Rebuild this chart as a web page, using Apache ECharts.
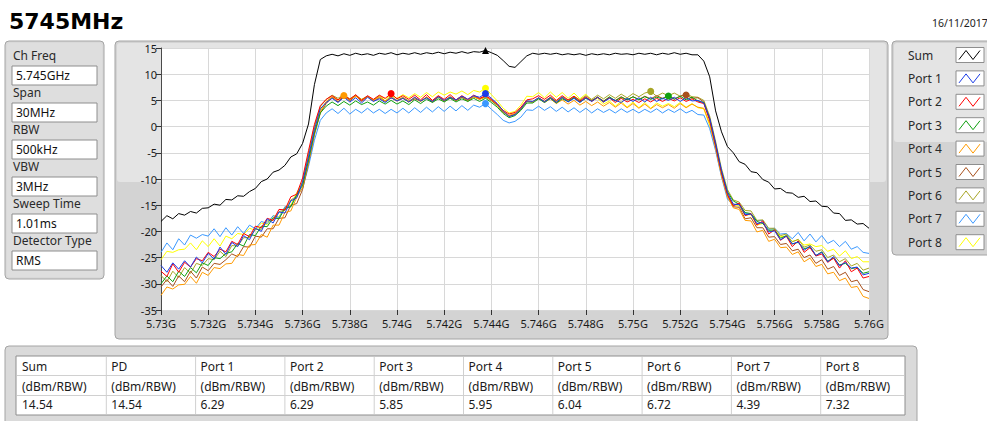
<!DOCTYPE html>
<html>
<head>
<meta charset="utf-8">
<title>5745MHz</title>
<script src="https://cdn.jsdelivr.net/npm/echarts@6/dist/echarts.min.js"></script>
<style>
  html, body { margin: 0; padding: 0; background: #fff; }
  #chart { width: 987px; height: 421px; }
</style>
</head>
<body>
<div id="chart"></div>
<script>
//sweep grid: 5730 MHz .. 5760 MHz, one point every 0.25 MHz (121 points)
const sweepStartMHz = 5730;
const sweepStepMHz = 0.25;

//traces (dBm/RBW)
const sumTrace = [
    -18.1, -17.0, -17.6, -16.6, -16.9, -16.2, -16.5, -15.6, -15.5,
    -14.8, -15.0, -13.9, -14.0, -13.2, -13.3, -12.4, -11.8,
    -10.5, -10.0, -8.7, -8.3, -7.4, -5.8, -5.2, -3.2,
    0.5, 8.0, 12.8, 13.5,
    13.8, 13.5, 13.9, 13.6, 14.0, 13.7, 13.9, 13.6, 14.0, 13.8, 14.1, 13.7,
    14.0, 13.8, 14.1, 13.8, 14.1, 13.9, 14.2, 13.9, 14.2, 14.0, 14.3, 14.0, 14.3, 14.2,
    14.54,
    14.1, 13.6, 12.6, 11.5, 11.3, 12.4, 13.5, 14.0, 13.8,
    14.0, 13.8, 14.0, 13.7, 13.9, 13.7, 13.9, 13.6, 13.9, 13.7, 13.9, 13.7, 14.0, 13.8, 13.9, 13.7,
    14.0, 13.8, 14.0, 13.7, 14.0, 13.8, 14.1, 13.8, 14.0, 13.7, 13.7, 12.5,
    9.5, 3.0, -1.0, -3.8,
    -5.0, -6.7, -7.2, -8.6, -8.8, -10.1, -10.6, -11.9,
    -11.8, -12.6, -12.7, -13.5, -13.3, -14.3, -14.2, -15.2,
    -15.3, -16.5, -16.6, -17.9, -17.8, -18.6, -18.5, -19.4
];
const port1Trace = [
    -26.5, -27.8, -26.0, -27.2, -25.6, -26.8, -24.9, -26.0, -24.2,
    -25.3, -23.0, -24.4, -22.1, -22.9, -20.8, -21.6, -19.4,
    -20.0, -17.6, -18.4, -16.3, -16.5, -14.2, -13.6, -10.6,
    -5.8, -0.6, 3.4, 4.6,
    5.4, 4.6, 5.6, 4.7, 5.5, 4.5, 5.6, 4.8, 5.3, 4.6, 5.5, 4.9,
    5.4, 4.7, 5.6, 4.9, 5.5, 4.8, 5.7, 5.0, 5.6, 5.1, 5.8, 5.2, 5.9, 5.6,
    6.29,
    5.4, 4.4, 3.0, 1.9, 2.3, 3.4, 4.9, 4.8, 5.5,
    4.7, 5.5, 4.6, 5.6, 4.7, 5.4, 4.6, 5.5, 4.8, 5.6, 4.7, 5.4, 5.0, 4.6, 5.4, 4.8,
    5.5, 4.7, 5.6, 4.8, 5.4, 5.0, 5.6, 4.8, 5.5, 4.9, 5.0, 4.5,
    1.6, -3.2, -8.4, -12.6,
    -14.8, -14.9, -16.8, -16.7, -18.5, -18.3, -20.1, -19.9,
    -21.6, -20.9, -22.4, -22.0, -23.6, -22.8, -24.6, -24.0,
    -25.8, -24.8, -26.6, -25.9, -27.0, -26.8, -28.3, -28.0
];
const port2Trace = [
    -27.6, -28.6, -26.2, -27.8, -25.9, -26.8, -25.2, -25.6, -24.0,
    -24.8, -23.4, -23.9, -21.9, -22.5, -20.4, -21.0, -19.0,
    -19.3, -17.5, -17.9, -15.8, -15.9, -13.4, -12.9, -9.8,
    -4.6, 0.4, 4.0, 5.2,
    5.9, 5.1, 6.0, 5.2, 6.1, 5.0, 5.9, 5.2, 6.0, 5.4, 6.29, 5.3,
    5.9, 5.2, 6.0, 5.1, 6.1, 5.0, 5.9, 5.2, 6.1, 5.1, 5.9, 5.2, 6.0, 5.4,
    5.9,
    5.2, 4.3, 3.1, 2.4, 2.7, 3.7, 5.1, 5.3, 5.9,
    5.2, 6.0, 5.0, 5.9, 5.1, 5.8, 4.9, 5.7, 4.8, 5.6, 4.7, 5.5, 4.6, 5.4, 4.7, 5.2,
    4.6, 5.3, 4.7, 5.4, 4.8, 5.4, 4.9, 5.5, 4.8, 5.3, 4.7, 4.4,
    1.2, -3.6, -8.8, -12.9,
    -15.1, -14.6, -17.0, -16.6, -18.8, -18.0, -20.5, -19.7,
    -21.7, -20.9, -22.9, -21.8, -24.0, -23.1, -24.7, -24.3,
    -25.9, -25.1, -27.0, -25.6, -27.7, -27.0, -28.9, -28.6
];
const port3Trace = [
    -30.0, -28.5, -29.6, -27.6, -28.6, -26.9, -27.9, -26.0, -26.5,
    -25.0, -25.2, -24.2, -23.9, -22.3, -22.8, -20.6, -20.8,
    -19.0, -19.1, -17.4, -17.6, -15.6, -15.3, -13.0, -11.2,
    -6.4, -1.2, 2.6, 3.9,
    4.7, 4.0, 4.8, 4.1, 4.9, 4.2, 4.7, 4.1, 4.9, 4.3, 5.0, 4.3,
    4.9, 4.2, 5.1, 4.4, 5.2, 4.6, 5.3, 4.7, 5.4, 4.7, 5.3, 4.8, 5.4, 4.8,
    5.4,
    4.6, 3.7, 2.5, 1.7, 2.1, 3.1, 4.5, 4.5, 5.3,
    4.6, 5.4, 4.5, 5.3, 4.8, 5.5, 4.7, 5.4, 4.9, 5.6, 4.8, 5.7, 4.9, 5.6, 5.1, 5.7,
    5.1, 5.7, 5.2, 5.6, 5.3, 5.85, 5.2, 5.8, 5.1, 5.6, 4.9, 4.6,
    1.4, -3.4, -8.6, -12.4,
    -14.2, -14.8, -16.4, -16.6, -18.1, -18.5, -19.8, -19.7,
    -21.3, -20.8, -22.4, -22.1, -23.3, -23.0, -24.6, -23.9,
    -25.7, -25.1, -26.4, -26.1, -27.1, -26.9, -28.0, -27.7
];
const port4Trace = [
    -32.2, -30.6, -31.0, -30.2, -30.1, -28.6, -29.9, -27.8, -28.4,
    -26.9, -27.1, -26.2, -26.1, -24.4, -24.6, -22.6, -22.5,
    -20.6, -21.1, -18.8, -18.8, -16.4, -16.1, -13.5, -11.6,
    -6.8, -1.4, 2.8, 4.8,
    5.7, 5.0, 5.95, 5.2, 5.8, 5.1, 5.7, 5.0, 5.6, 4.9, 5.5, 4.9,
    5.5, 4.7, 5.6, 4.8, 5.7, 4.9, 5.8, 5.0, 5.7, 5.1, 5.8, 5.1, 5.7, 5.2,
    5.6,
    5.1, 4.2, 2.9, 2.1, 2.5, 3.5, 4.9, 4.7, 5.4,
    4.6, 5.3, 4.4, 5.1, 4.3, 5.0, 4.1, 4.8, 4.0, 4.7, 3.9, 4.6, 3.7, 4.5, 3.6, 4.4,
    3.5, 4.3, 3.4, 4.2, 3.6, 4.2, 3.5, 4.4, 3.6, 4.3, 3.7, 3.5,
    0.6, -4.2, -9.4, -13.4,
    -15.5, -15.8, -17.9, -18.0, -20.1, -19.8, -21.9, -21.5,
    -23.1, -23.0, -24.4, -23.9, -25.8, -25.1, -26.7, -26.3,
    -28.1, -27.8, -29.4, -28.9, -30.7, -30.5, -32.4, -32.8
];
const port5Trace = [
    -30.6, -29.2, -30.5, -28.5, -29.6, -27.6, -28.9, -26.8, -27.5,
    -26.1, -26.3, -25.4, -24.3, -24.8, -22.9, -23.0, -20.9,
    -21.1, -19.5, -19.5, -17.5, -17.4, -15.0, -14.7, -12.0,
    -7.0, -1.6, 2.6, 4.4,
    5.6, 4.7, 5.8, 4.9, 5.9, 4.8, 5.7, 4.9, 5.5, 4.8, 5.5, 4.9,
    5.4, 4.7, 5.3, 4.9, 5.5, 4.7, 5.7, 4.9, 5.5, 5.0, 5.6, 5.0, 5.7, 5.3,
    5.7,
    5.0, 4.1, 2.8, 2.0, 2.3, 3.4, 4.8, 4.7, 5.5,
    4.8, 5.6, 4.7, 5.5, 4.8, 5.6, 4.7, 5.5, 5.0, 5.6, 4.9, 5.5, 5.0, 5.7, 5.1, 5.7,
    5.2, 5.8, 5.3, 5.9, 5.4, 5.9, 5.3, 5.8, 6.04, 5.4, 5.5, 4.7,
    1.5, -3.6, -8.9, -13.1,
    -15.3, -15.4, -17.6, -17.4, -19.3, -19.3, -21.1, -21.0,
    -22.5, -22.3, -23.7, -23.4, -25.0, -24.5, -26.1, -25.4,
    -27.2, -26.7, -28.4, -27.8, -29.6, -29.3, -31.1, -31.5
];
const port6Trace = [
    -28.4, -29.6, -27.6, -28.8, -26.9, -28.0, -26.1, -26.5, -25.2,
    -25.4, -23.8, -24.8, -22.7, -22.8, -21.2, -21.2, -19.6,
    -19.6, -18.0, -17.9, -16.2, -16.0, -14.0, -13.3, -10.4,
    -5.2, 0.0, 3.8, 5.2,
    6.0, 5.4, 6.1, 5.3, 6.0, 5.2, 5.8, 5.1, 5.8, 4.9, 5.8, 5.0,
    5.6, 4.9, 5.5, 4.8, 5.6, 4.7, 5.6, 4.8, 5.7, 4.9, 5.6, 4.8, 5.7, 5.2,
    5.7,
    4.9, 4.0, 2.7, 2.1, 2.4, 3.3, 4.8, 4.7, 5.5,
    4.8, 5.6, 4.9, 5.7, 5.0, 5.8, 5.1, 5.9, 5.2, 6.0, 5.3, 6.1, 5.4, 6.2, 5.5, 6.3,
    5.7, 6.4, 6.72, 5.8, 6.4, 5.9, 6.4, 5.8, 6.3, 5.7, 5.6, 5.0,
    2.0, -2.8, -8.0, -12.0,
    -14.0, -14.4, -16.0, -16.1, -17.9, -17.8, -19.4, -19.4,
    -20.8, -20.5, -22.0, -21.5, -23.0, -22.6, -23.8, -23.5,
    -25.0, -24.5, -25.8, -25.2, -26.6, -26.1, -27.4, -27.0
];
const port7Trace = [
    -24.0, -22.2, -23.5, -21.4, -22.6, -20.7, -21.3, -20.6, -20.9,
    -19.5, -21.0, -19.3, -20.7, -19.1, -20.4, -18.8, -19.5,
    -18.1, -18.5, -17.0, -17.4, -15.3, -15.3, -13.1, -11.8,
    -7.6, -2.6, 1.2, 2.6,
    3.4, 2.5, 3.5, 2.4, 3.3, 2.6, 3.5, 2.6, 3.3, 2.5, 3.3, 2.6,
    3.5, 2.6, 3.6, 2.7, 3.7, 2.8, 3.8, 2.9, 3.9, 3.0, 4.0, 3.1, 4.1, 3.7,
    4.39,
    3.3, 2.3, 1.2, 0.7, 1.0, 1.8, 3.2, 3.1, 3.9,
    3.1, 3.8, 2.9, 3.7, 2.8, 3.6, 2.7, 3.5, 2.6, 3.4, 2.7, 3.3, 2.6, 3.4, 2.7, 3.3,
    2.6, 3.3, 2.7, 3.4, 2.6, 3.3, 2.7, 3.4, 2.6, 3.1, 2.3, 2.2,
    -0.4, -4.6, -9.6, -13.8,
    -15.0, -14.6, -16.6, -16.6, -18.0, -17.9, -19.6, -19.4,
    -20.5, -20.4, -21.4, -20.2, -21.8, -20.5, -22.0, -20.8,
    -22.3, -21.7, -22.9, -21.9, -23.4, -22.9, -24.0, -24.2
];
const port8Trace = [
    -25.4, -23.8, -24.0, -23.5, -23.4, -22.2, -23.5, -21.8, -22.9,
    -21.4, -22.8, -20.9, -21.4, -20.4, -20.6, -19.4, -19.8,
    -18.4, -18.7, -17.0, -17.2, -15.3, -15.0, -12.6, -10.8,
    -5.6, -0.8, 3.2, 4.6,
    5.6, 5.1, 5.9, 5.0, 5.8, 5.2, 5.7, 5.1, 5.9, 5.3, 6.0, 5.4,
    6.1, 5.5, 6.3, 5.6, 6.5, 5.7, 6.6, 6.0, 6.6, 6.2, 6.8, 6.1, 6.9, 6.6,
    7.32,
    6.1, 4.9, 3.5, 2.6, 2.9, 4.1, 5.8, 5.7, 6.5,
    5.5, 6.6, 5.6, 6.5, 5.4, 6.4, 5.3, 6.2, 5.0, 5.4, 4.3, 4.9, 3.9, 4.8, 3.7, 4.7,
    3.6, 4.6, 3.5, 4.5, 3.9, 4.4, 3.8, 4.6, 3.7, 4.4, 3.6, 3.4,
    0.2, -4.0, -9.2, -13.2,
    -14.8, -15.2, -16.9, -16.8, -18.8, -18.5, -20.0, -19.8,
    -21.0, -20.9, -21.9, -21.6, -22.6, -22.4, -22.9, -22.7,
    -23.8, -23.4, -24.7, -23.7, -25.2, -24.8, -25.8, -25.8
];

//trace names / colours (legend order)
const traceNames = ["Sum", "Port 1", "Port 2", "Port 3", "Port 4", "Port 5", "Port 6", "Port 7", "Port 8"];
const traceColors = ["#000000", "#1a3be6", "#ff0000", "#10a010", "#ff9a00", "#a8501c", "#a8a626", "#3a98ff", "#ffff00"];
const traces = [sumTrace, port1Trace, port2Trace, port3Trace, port4Trace, port5Trace, port6Trace, port7Trace, port8Trace];

//settings panel
const paramLabels = ["Ch Freq", "Span", "RBW", "VBW", "Sweep Time", "Detector Type"];
const paramValues = ["5.745GHz", "30MHz", "500kHz", "3MHz", "1.01ms", "RMS"];

//result table
const tableHeads = ["Sum", "PD", "Port 1", "Port 2", "Port 3", "Port 4", "Port 5", "Port 6", "Port 7", "Port 8"];
const tableUnit = "(dBm/RBW)";
const tableValues = [14.54, 14.54, 6.29, 6.29, 5.85, 5.95, 6.04, 6.72, 4.39, 7.32];

const FONT = "'Noto Sans', 'Liberation Sans', sans-serif";
const chart = echarts.init(document.getElementById("chart"), null, { renderer: "svg" });

//x values of the sweep
const freqMHz = sumTrace.map((_, i) => sweepStartMHz + i * sweepStepMHz);

//series, drawn bottom -> top so blue / sum end up on top
const drawOrder = [8, 7, 6, 5, 4, 3, 2, 1, 0];
const series = drawOrder.map(k => ({
    name: traceNames[k],
    type: "line",
    data: freqMHz.map((f, i) => [f, traces[k][i]]),
    showSymbol: false,
    lineStyle: { color: traceColors[k], width: 1 },
    itemStyle: { color: traceColors[k] },
    silent: true,
    markPoint: {
        symbol: k === 0 ? "triangle" : "circle",
        symbolSize: 7,
        label: { show: false },
        itemStyle: { color: traceColors[k] },
        data: [{ type: "max" }]
    }
}));

//---- panels and text drawn with graphic elements
const g = [];
function box(x, y, w, h, fill, stroke, z, r) {
    g.push({
        type: "rect", z: z, silent: true,
        shape: { x: x, y: y, width: w, height: h, r: r || 0 },
        style: { fill: fill, stroke: stroke || null, lineWidth: 1 }
    });
}
function txt(str, x, y, size, extraStyle, z) {
    g.push({
        type: "text", z: z || 5, silent: true,
        style: Object.assign({
            text: str, x: x, y: y, fill: "#1a1a1a",
            font: `${size}px ${FONT}`,
            align: "left", verticalAlign: "middle",
            textAlign: "left", textVerticalAlign: "middle"
        }, extraStyle || {})
    });
}

//title + date
txt("5745MHz", 9, 21, 22, { font: `bold 22px 'DejaVu Sans', ${FONT}`, fill: "#000" });
txt("16/11/2017", 932, 23, 10.5, { fill: "#222" });

//settings panel
box(5, 41, 99, 238, "#d9d9d9", "#a4a4a4", -10, 4);
box(7, 43, 95, 234, "#dedede", null, -9, 3);
paramLabels.forEach((lab, i) => {
    txt(lab, 13, 55.5 + i * 36.9, 12, { fill: "#2a2a2a" });
    const top = 66 + i * 37;
    box(12, top, 85, 19, "#ffffff", "#8e8e8e", -5, 0);
    txt(paramValues[i], 16, top + 9.5, 12, { fill: "#111" });
});

//plot panel
box(115, 41, 773, 298, "#d3d3d3", "#a4a4a4", -10, 4);
box(117, 43, 769, 139, "#e4e4e4", null, -9, 3);

//legend panel
box(892, 41, 100, 214, "#d3d3d3", "#a4a4a4", -10, 4);
box(894, 43, 96, 99, "#e4e4e4", null, -9, 3);
traceNames.forEach((name, i) => {
    const cy = 55 + i * 23.4;
    txt(name, 908, cy, 12, { fill: "#2a2a2a" });
    const bx = 956, by = cy - 7.5;
    box(bx, by, 28, 15, "#ffffff", "#8e8e8e", -5, 0);
    g.push({
        type: "polyline", z: -4, silent: true,
        shape: { points: [[bx + 3, by + 12], [bx + 10, by + 3], [bx + 17, by + 12], [bx + 24, by + 3]] },
        style: { stroke: traceColors[i], lineWidth: 1, fill: null }
    });
});

//result table
box(5, 346, 912, 80, "#dadada", "#a4a4a4", -10, 4);
box(16, 356, 889, 59, "#ffffff", "#8e8e8e", -5, 0);
const colW = 89.3;
[375.5, 395.5].forEach(y => g.push({
    type: "line", z: -4, silent: true,
    shape: { x1: 17, y1: y, x2: 904, y2: y },
    style: { stroke: "#d0d0d0", lineWidth: 1 }
}));
tableHeads.forEach((head, k) => {
    const x0 = 17 + k * colW;
    if (k > 0) {
        g.push({
            type: "line", z: -4, silent: true,
            shape: { x1: x0, y1: 357, x2: x0, y2: 414 },
            style: { stroke: "#d0d0d0", lineWidth: 1 }
        });
    }
    txt(head, x0 + 5, 366, 12, { fill: "#1a1a1a" });
    txt(tableUnit, x0 + 5, 386, 12, { fill: "#1a1a1a" });
    txt(tableValues[k].toFixed(2), x0 + 5, 404.5, 12, { fill: "#1a1a1a" });
});

const option = {
    animation: false,
    backgroundColor: "#ffffff",
    textStyle: { fontFamily: FONT },
    grid: {
        left: 161, top: 48, width: 708, height: 262,
        show: true, backgroundColor: "#ffffff", borderWidth: 0
    },
    xAxis: {
        type: "value",
        min: 5730, max: 5760, interval: 2,
        axisLine: { show: false, onZero: false },
        axisTick: { show: true, length: 5, lineStyle: { color: "#333" } },
        axisLabel: {
            color: "#1a1a1a", fontSize: 11, fontFamily: FONT, margin: 8,
            formatter: v => `${v / 1000}G`
        },
        splitLine: { show: true, lineStyle: { color: "#d8d8d8", width: 1 } }
    },
    yAxis: {
        type: "value",
        min: -35, max: 15, interval: 5,
        axisLine: { show: true, onZero: false, lineStyle: { color: "#4a4a4a", width: 1 } },
        axisTick: { show: true, length: 5, lineStyle: { color: "#333" } },
        axisLabel: { color: "#1a1a1a", fontSize: 11, fontFamily: FONT, margin: 4 },
        splitLine: { show: true, lineStyle: { color: "#d8d8d8", width: 1 } }
    },
    graphic: { elements: g },
    series: series
};

chart.setOption(option);
</script>
</body>
</html>
